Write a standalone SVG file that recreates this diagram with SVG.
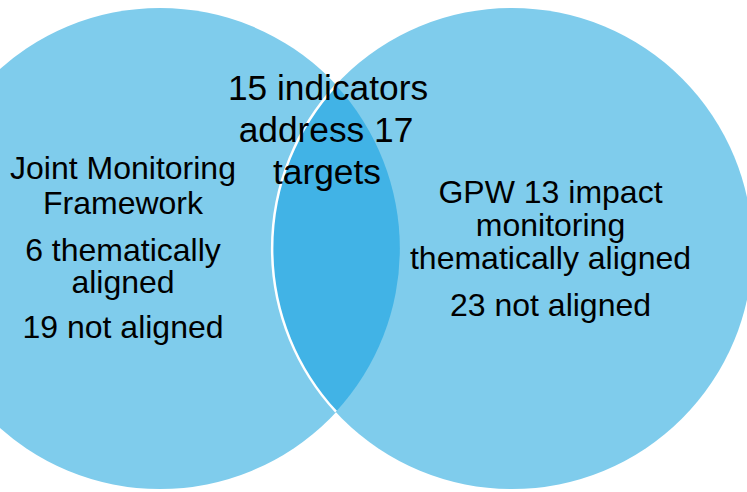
<svg xmlns="http://www.w3.org/2000/svg" width="747" height="492" viewBox="0 0 747 492">
<style>
.c{fill:#7FCCEC}
.t{font-family:"Liberation Sans",Arial,sans-serif;font-size:32px;fill:#000;text-anchor:middle}
.m{font-size:35.3px}
</style>
<rect width="747" height="492" fill="#fff"/>
<g id="left-circle">
<circle class="c" cx="160" cy="248.5" r="240.5"/>
</g>
<g id="right-circle">
<circle class="c" cx="512" cy="248.5" r="240.5"/>
</g>
<g id="overlap">
<path d="M336,85.3 A240.5,240.5 0 0 1 336,411.7 A240.5,240.5 0 0 1 336,85.3 Z" fill="#41B3E6"/>
<path d="M336,85.3 A240.5,240.5 0 0 0 336,411.7" fill="none" stroke="#fff" stroke-width="2.5"/>
</g>
<g id="left-label" class="t">
<text x="123" y="179">Joint Monitoring</text>
<text x="123" y="214">Framework</text>
<text x="123" y="261">6 thematically</text>
<text x="123" y="293">aligned</text>
<text x="123" y="338">19 not aligned</text>
</g>
<g id="right-label" class="t">
<text x="550.5" y="203">GPW 13 impact</text>
<text x="550.5" y="236">monitoring</text>
<text x="550.5" y="269">thematically aligned</text>
<text x="550.5" y="316">23 not aligned</text>
</g>
<g id="overlap-label" class="t m">
<text x="328" y="100">15 indicators</text>
<text x="326" y="142">address 17</text>
<text x="327" y="184">targets</text>
</g>
</svg>
